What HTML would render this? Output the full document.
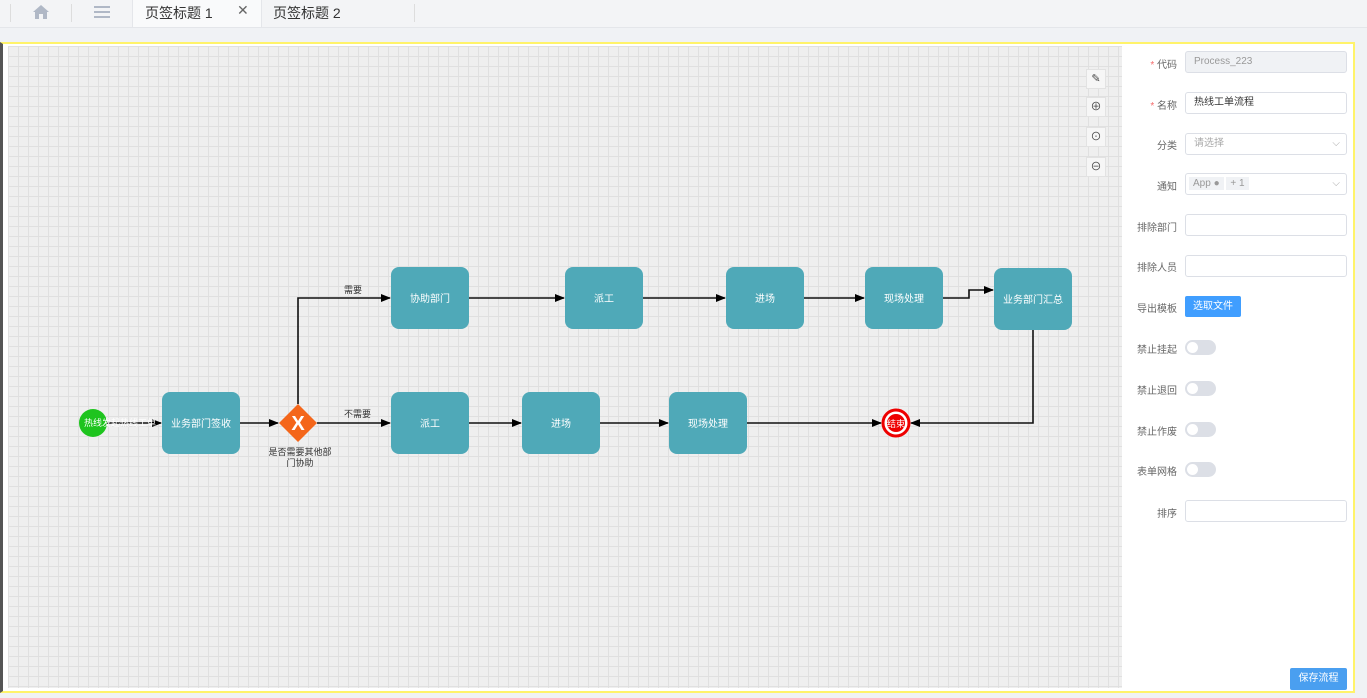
<!DOCTYPE html>
<html><head><meta charset="utf-8"><style>
*{box-sizing:border-box;margin:0;padding:0}
body{width:1367px;height:698px;background:#f0f2f5;font-family:"Liberation Sans","Noto Sans CJK SC",sans-serif;position:relative;overflow:hidden}
.tabs{position:absolute;left:0;top:0;width:1367px;height:28px;background:#f3f4f6;border-bottom:1px solid #e4e6ea}
.frame{position:absolute;left:0;top:42px;width:1355px;height:651px;border:2px solid #fff36a;border-left:3px solid #555;background:#fff}
.canvas{position:absolute;left:8px;top:46px;width:1114px;height:642px;background-color:#efefef;
background-image:linear-gradient(#e0e0e0 1px,transparent 1px),linear-gradient(90deg,#e0e0e0 1px,transparent 1px);background-size:10px 10px}
.lbl{position:absolute;font-size:10px;color:#666;text-align:right;width:60px;left:1117px}
.lbl b{color:#f56c6c;font-weight:normal}
.inp{position:absolute;left:1185px;width:162px;height:22px;border:1px solid #dcdfe6;border-radius:3px;background:#fff;font-size:10px;color:#333;padding:0 8px;line-height:20px}
.tg{position:absolute;left:1185px;width:31px;height:15px;border-radius:8px;background:#dcdfe6}
.tg:after{content:"";position:absolute;left:2px;top:2px;width:11px;height:11px;border-radius:50%;background:#fff}
.tb{position:absolute;left:1086px;width:20px;height:20px;background:#f6f6f6;border:1px solid #e2e2e2;font-size:11px;color:#444;text-align:center;line-height:18px}
</style></head><body>
<div class="tabs">
<div style="position:absolute;left:10px;top:4px;height:18px;border-left:1px solid #ddd"></div>
<svg style="position:absolute;left:32px;top:4px" width="18" height="16"><path d="M9,1L1,8H3V15H7V10H11V15H15V8H17z" fill="#b0b8c6"/></svg>
<div style="position:absolute;left:71px;top:4px;height:18px;border-left:1px solid #ddd"></div>
<div style="position:absolute;left:94px;top:6px;width:16px;height:2px;background:#b0b8c6;box-shadow:0 5px 0 #b0b8c6,0 10px 0 #b0b8c6"></div>
<div style="position:absolute;left:132px;top:0;width:130px;height:27px;background:#f9fafb;border-left:1px solid #e4e6ea;border-right:1px solid #e4e6ea;font-size:14px;color:#333;padding:3px 12px">页签标题 1<span style="position:absolute;left:104px;top:2px;font-size:14px;color:#666">✕</span></div>
<div style="position:absolute;left:273px;top:3px;font-size:14px;color:#333">页签标题 2</div>
<div style="position:absolute;left:414px;top:4px;height:18px;border-left:1px solid #ddd"></div>
</div>
<div class="frame"></div>
<div class="canvas"></div>
<svg width="1367" height="698" style="position:absolute;left:0;top:0" font-family="Liberation Sans,Noto Sans CJK SC,sans-serif">
<defs><marker id="a" markerWidth="10" markerHeight="8" refX="9" refY="4" orient="auto" markerUnits="userSpaceOnUse"><path d="M0,0L10,4L0,8z" fill="#000"/></marker></defs>
<g stroke="#111" stroke-width="1.6" fill="none" marker-end="url(#a)">
<path d="M107,423H161"/><path d="M240,423H278"/><path d="M317,423H390"/>
<path d="M298,404V298H390"/><path d="M469,298H564"/><path d="M643,298H725"/><path d="M804,298H864"/>
<path d="M943,298H969V290H993"/>
<path d="M469,423H521"/><path d="M600,423H668"/><path d="M747,423H881"/>
<path d="M1033,330V423H911"/>
</g>
<g fill="#4fa9b8">
<rect x="162" y="392" width="78" height="62" rx="8"/><rect x="391" y="267" width="78" height="62" rx="8"/>
<rect x="565" y="267" width="78" height="62" rx="8"/><rect x="726" y="267" width="78" height="62" rx="8"/>
<rect x="865" y="267" width="78" height="62" rx="8"/><rect x="994" y="268" width="78" height="62" rx="8"/>
<rect x="391" y="392" width="78" height="62" rx="8"/><rect x="522" y="392" width="78" height="62" rx="8"/>
<rect x="669" y="392" width="78" height="62" rx="8"/>
</g>
<g fill="#fff" font-size="10" text-anchor="middle">
<text x="201" y="427">业务部门签收</text><text x="430" y="302">协助部门</text><text x="604" y="302">派工</text>
<text x="765" y="302">进场</text><text x="904" y="302">现场处理</text><text x="1033" y="303">业务部门汇总</text>
<text x="430" y="427">派工</text><text x="561" y="427">进场</text><text x="708" y="427">现场处理</text>
</g>
<circle cx="93" cy="423" r="14" fill="#1ec41e"/>
<text x="84" y="426" fill="#fff" font-size="9">热线发起热线工单</text>
<path d="M298,404L317,423L298,442L279,423z" fill="#f4661a"/>
<text x="298" y="430" fill="#fff" font-size="20" font-weight="bold" text-anchor="middle">X</text>
<text x="300" y="455" font-size="9" fill="#333" text-anchor="middle">是否需要其他部</text>
<text x="300" y="466" font-size="9" fill="#333" text-anchor="middle">门协助</text>
<text x="344" y="293" font-size="9" fill="#333">需要</text>
<text x="344" y="417" font-size="9" fill="#333">不需要</text>
<circle cx="896" cy="423" r="13" fill="#fff" stroke="#e00" stroke-width="3"/>
<circle cx="896" cy="423" r="9" fill="#e00"/>
<text x="896" y="427" fill="#fff" font-size="9" text-anchor="middle">结束</text>
</svg>
<div class="tb" style="top:69px">✎</div><div class="tb" style="top:97px">⊕</div><div class="tb" style="top:127px">⊙</div><div class="tb" style="top:157px">⊖</div>
<div style="position:absolute;left:1123px;top:44px;width:229px;height:646px;background:#fff"></div>
<div class="lbl" style="top:56px"><b>* </b>代码</div><div class="inp" style="top:51px;background:#f0f2f5;color:#999">Process_223</div>
<div class="lbl" style="top:97px"><b>* </b>名称</div><div class="inp" style="top:92px">热线工单流程</div>
<div class="lbl" style="top:137px">分类</div><div class="inp" style="top:133px;color:#aaa">请选择<span style="position:absolute;right:6px;top:0;color:#aaa">⌵</span></div>
<div class="lbl" style="top:178px">通知</div><div class="inp" style="top:173px;padding:0 3px"><span style="background:#f0f2f5;color:#999;padding:1px 4px">App ●</span> <span style="background:#f0f2f5;color:#999;padding:1px 4px">+ 1</span><span style="position:absolute;right:6px;top:0;color:#aaa">⌵</span></div>
<div class="lbl" style="top:219px">排除部门</div><div class="inp" style="top:214px"></div>
<div class="lbl" style="top:259px">排除人员</div><div class="inp" style="top:255px"></div>
<div class="lbl" style="top:300px">导出模板</div><div style="position:absolute;left:1185px;top:296px;width:56px;height:21px;background:#409eff;color:#fff;font-size:10px;text-align:center;line-height:21px;border-radius:2px">选取文件</div>
<div class="lbl" style="top:341px">禁止挂起</div><div class="tg" style="top:340px"></div>
<div class="lbl" style="top:382px">禁止退回</div><div class="tg" style="top:381px"></div>
<div class="lbl" style="top:423px">禁止作废</div><div class="tg" style="top:422px"></div>
<div class="lbl" style="top:463px">表单网格</div><div class="tg" style="top:462px"></div>
<div class="lbl" style="top:505px">排序</div><div class="inp" style="top:500px"></div>
<div style="position:absolute;left:1290px;top:668px;width:57px;height:22px;background:#4a9ff0;color:#fff;font-size:10px;text-align:center;line-height:22px;border-radius:2px">保存流程</div>
</body></html>
